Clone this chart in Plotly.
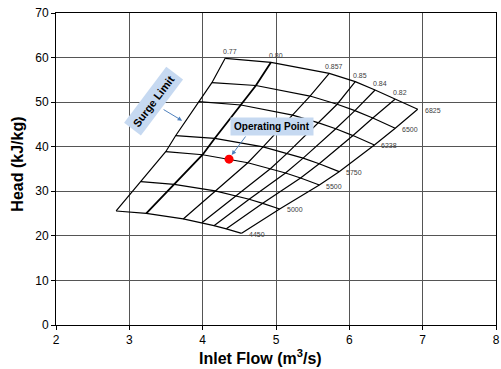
import plotly.graph_objects as go

# Speed lines (bottom to top), each with 7 points across the map (surge -> choke)
speeds = ["4450", "5000", "5500", "5750", "6238", "6500", "6825"]
flow = [
    [2.820, 3.231, 3.735, 3.989, 4.154, 4.323, 4.531],
    [3.158, 3.612, 4.170, 4.450, 4.634, 4.819, 5.050],
    [3.496, 3.999, 4.616, 4.927, 5.130, 5.335, 5.591],
    [3.631, 4.166, 4.824, 5.154, 5.370, 5.589, 5.861],
    [3.946, 4.522, 5.228, 5.582, 5.815, 6.050, 6.342],
    [4.126, 4.726, 5.464, 5.834, 6.076, 6.320, 6.626],
    [4.307, 4.932, 5.726, 6.081, 6.351, 6.622, 6.932],
]
head = [
    [25.58, 25.04, 23.79, 22.94, 22.29, 21.57, 20.57],
    [32.15, 31.57, 30.08, 29.02, 28.21, 27.29, 26.03],
    [38.88, 38.20, 36.40, 35.10, 34.10, 32.98, 31.41],
    [42.47, 41.88, 39.98, 38.55, 37.44, 36.17, 34.40],
    [50.10, 49.36, 47.07, 45.35, 44.02, 42.50, 40.39],
    [54.36, 53.73, 51.37, 49.53, 48.09, 46.45, 44.13],
    [59.84, 58.94, 56.47, 54.59, 52.73, 50.64, 48.40],
]
# Labels at the top end of each diagonal line (first is the surge line)
eff_labels = ["0.77", "0.80", "0.857", "0.85", "0.84", "0.82"]

op_flow = [4.36]
op_head = [37.2]

x_ticks = [2, 3, 4, 5, 6, 7, 8]
y_ticks = [0, 10, 20, 30, 40, 50, 60, 70]

FONT = "Liberation Sans, Arial, sans-serif"

fig = go.Figure()

# speed lines
for r in range(len(speeds)):
    fig.add_trace(go.Scatter(x=flow[r], y=head[r], mode="lines",
                             line=dict(color="black", width=1.2),
                             hoverinfo="skip", showlegend=False))
# diagonal lines
ncol = len(flow[0])
for c in range(ncol):
    fig.add_trace(go.Scatter(x=[row[c] for row in flow], y=[row[c] for row in head],
                             mode="lines",
                             line=dict(color="black", width=1.8 if c == 1 else 1.2),
                             hoverinfo="skip", showlegend=False))

# operating point
fig.add_trace(go.Scatter(x=op_flow, y=op_head, mode="markers",
                         marker=dict(color="red", size=9),
                         hoverinfo="skip", showlegend=False))

ann = []
small = dict(family=FONT, size=7, color="#404040")
for r, s in enumerate(speeds):
    ann.append(dict(x=flow[r][-1], y=head[r][-1], text=s, showarrow=False,
                    xanchor="left", yanchor="middle", xshift=5, yshift=-1, font=small))
top = len(speeds) - 1
for c, lab in enumerate(eff_labels):
    ann.append(dict(x=flow[top][c], y=head[top][c], text=lab, showarrow=False,
                    xanchor="center", yanchor="bottom", xshift=5, yshift=1, font=small))

ann.append(dict(x=3.332, y=50.26, text="<b>Surge Limit</b>", showarrow=False,
                textangle=-53, bgcolor="#c6d9f1", borderpad=4,
                font=dict(family=FONT, size=11, color="black")))
ann.append(dict(x=4.943, y=44.58, text="<b>Operating Point</b>", showarrow=False,
                bgcolor="#c6d9f1", borderpad=3,
                font=dict(family=FONT, size=10, color="black")))
# callout arrows
ann.append(dict(x=3.720, y=45.84, ax=-20, ay=-12, text="", showarrow=True,
                arrowhead=2, arrowsize=0.9, arrowwidth=1, arrowcolor="#4f81bd"))
ann.append(dict(x=4.396, y=38.14, ax=15, ay=-20, text="", showarrow=True,
                arrowhead=2, arrowsize=0.9, arrowwidth=1, arrowcolor="#4f81bd"))

# axis titles
title_font = dict(family=FONT, size=16, color="black")
ann.append(dict(xref="paper", yref="paper", x=0.464, y=0, yshift=-32,
                xanchor="center", yanchor="middle", showarrow=False,
                text="<b>Inlet Flow (m<sup>3</sup>/s)</b>", font=title_font))
ann.append(dict(xref="paper", yref="paper", x=0, y=0.514, xshift=-38,
                xanchor="center", yanchor="middle", showarrow=False, textangle=-90,
                text="<b>Head (kJ/kg)</b>", font=title_font))

axis_font = dict(family=FONT, size=12, color="black")
fig.update_layout(
    width=501, height=369,
    margin=dict(l=56, r=1, t=13, b=44),
    paper_bgcolor="white", plot_bgcolor="white",
    annotations=ann,
    xaxis=dict(range=[2, 8], tickvals=x_ticks, ticktext=[str(v) for v in x_ticks],
               showgrid=True, gridcolor="#555", gridwidth=1,
               showline=True, linecolor="black", linewidth=1, mirror=True,
               ticks="outside", ticklen=4, tickcolor="black",
               tickfont=axis_font, zeroline=False, ticklabeloverflow="allow"),
    yaxis=dict(range=[0, 70], tickvals=y_ticks,
               showgrid=True, gridcolor="#555", gridwidth=1,
               showline=True, linecolor="black", linewidth=1, mirror=True,
               ticks="outside", ticklen=4, tickcolor="black",
               tickfont=axis_font, zeroline=False),
)

fig.write_html("out.html")
